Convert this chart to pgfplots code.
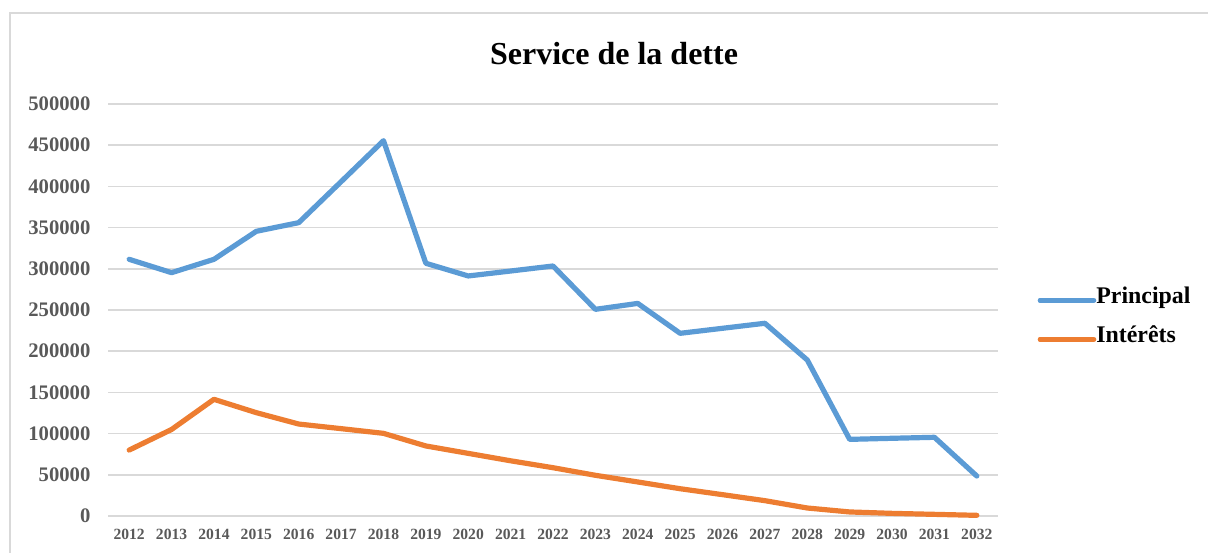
\documentclass[border=0pt]{standalone}
\usepackage{pgfplots}
\pgfplotsset{compat=1.18}
\usepackage{fontspec}
\setmainfont{Liberation Serif}
\definecolor{cblue}{RGB}{91,155,213}
\definecolor{corange}{RGB}{237,125,49}
\definecolor{cgrid}{RGB}{217,217,217}
\definecolor{ctick}{RGB}{89,89,89}
\begin{document}
\begin{tikzpicture}
\useasboundingbox (0,0) rectangle (906pt,414.75pt);
\draw[cgrid, line width=1.2pt] (7.5pt,-2pt) -- (7.5pt,405pt) -- (910pt,405pt);
\node[anchor=base, font=\fontsize{24}{28}\selectfont\bfseries, inner sep=0pt] at (460.5pt,366pt) {Service de la dette};
\begin{axis}[
  at={(81pt,27.75pt)}, anchor=south west,
  scale only axis, width=667.5pt, height=309pt,
  xmin=2011.5, xmax=2032.5, ymin=0, ymax=500000,
  xtick={2012,2013,...,2032}, ytick={0,50000,...,500000},
  scaled y ticks=false, scaled x ticks=false,
  axis line style={draw=none}, major tick length=0pt,
  ymajorgrids, grid style={cgrid, line width=1.1pt},
  clip=false,
  xticklabel style={anchor=north, inner sep=0pt, yshift=-10pt, text=ctick,
    font=\fontsize{11.7}{14}\selectfont\bfseries,
    /pgf/number format/1000 sep={}, /pgf/number format/assume math mode=true},
  yticklabel style={anchor=east, inner sep=0pt, xshift=-13pt, text=ctick,
    font=\fontsize{15.5}{18}\selectfont\bfseries,
    /pgf/number format/fixed, /pgf/number format/1000 sep={}, /pgf/number format/assume math mode=true},
  legend cell align=left,
  legend image code/.code={\draw[#1, line cap=round] (0pt,0pt) -- (33.5pt,0pt); \path (0pt,0pt) -- (40pt,0pt);},
  legend style={at={(1.0444,0.5396)}, anchor=north west, draw=none, fill=none,
    inner sep=0pt, row sep=19.8pt, font=\fontsize{17.9}{20}\selectfont\bfseries,
    nodes={inner sep=0pt, text height=0.7em, text depth=0.25em}},
]
\addplot[cblue, line width=3.9pt, line join=round, line cap=round] table {
x y
2012 311500
2013 295300
2014 311500
2015 345500
2016 356000
2017 405700
2018 455500
2019 306700
2020 291300
2021 297300
2022 303400
2023 250800
2024 258000
2025 221700
2026 227800
2027 233900
2028 189300
2029 93000
2030 94300
2031 95500
2032 48500
};
\addlegendentry{Principal}
\addplot[corange, line width=3.9pt, line join=round, line cap=round] table {
x y
2012 80000
2013 105000
2014 141600
2015 125400
2016 111600
2017 106000
2018 100300
2019 85000
2020 76000
2021 67000
2022 58600
2023 49400
2024 41300
2025 33100
2026 25900
2027 18600
2028 9700
2029 4900
2030 3200
2031 2000
2032 800
};
\addlegendentry{Intérêts}
\end{axis}
\end{tikzpicture}
\end{document}
